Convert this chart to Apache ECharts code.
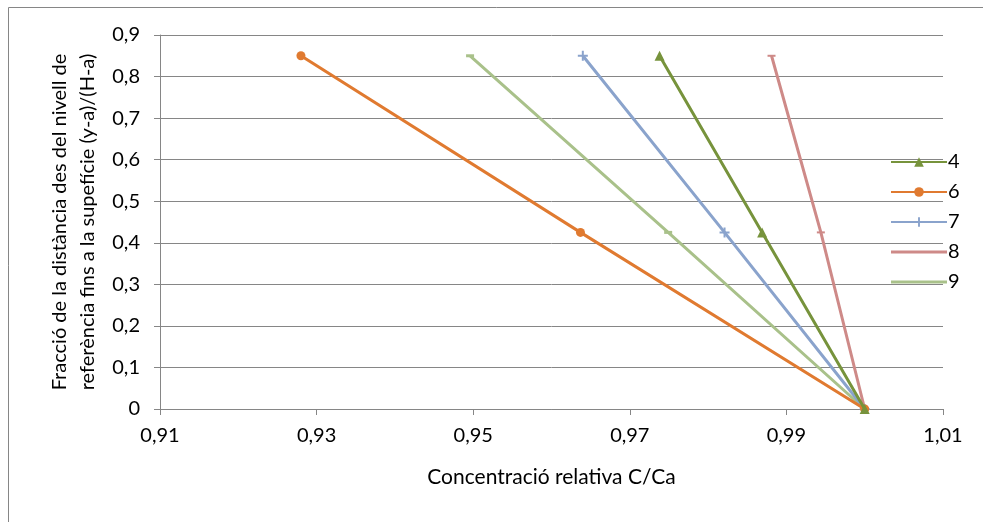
<!DOCTYPE html>
<html>
<head>
<meta charset="utf-8">
<script src="https://cdn.jsdelivr.net/npm/echarts@6/dist/echarts.min.js"></script>
<style>html,body{margin:0;padding:0;background:#fff;}#c{width:983px;height:522px;}</style>
</head>
<body>
<div id="c"></div>
<script>
var seriesNames = ['4', '6', '7', '8', '9'];
var yLevels = [0.85, 0.425, 0];
var x4 = [0.9738, 0.9869, 1.0];
var x6 = [0.928, 0.9637, 1.0];
var x7 = [0.964, 0.9821, 1.0];
var x8 = [0.9881, 0.9944, 1.0];
var x9 = [0.9496, 0.9749, 1.0];
var xTickMin = 0.91, xTickMax = 1.01, xTickStep = 0.02;
var yTickMin = 0, yTickMax = 0.9, yTickStep = 0.1;

var colors = ['#77933C', '#E07A30', '#8AA3CC', '#CE8A88', '#A9C18A'];
var symbols = ['triangle', 'circle', 'path://M4,0h2v4h4v2h-4v4h-2v-4h-4v-2h4z', 'rect', 'rect'];
var symbolSizes = [10, 9, 10, [8, 2], [8, 3]];
var xs = [x4, x6, x7, x8, x9];

function fmt(v, d) {
  var s = (Math.round(v * 1000) / 1000).toFixed(d);
  if (Math.abs(v) < 1e-9) return '0';
  return s.replace('.', ',');
}

var FONT = 'Lato';
var chart = echarts.init(document.getElementById('c'), null, {renderer: 'canvas'});
var series = seriesNames.map(function (n, i) {
  return {
    name: n,
    type: 'line',
    data: xs[i].map(function (x, j) { return [x, yLevels[j]]; }),
    symbol: symbols[i],
    symbolSize: symbolSizes[i],
    showAllSymbol: true,
    lineStyle: {color: colors[i], width: 3},
    itemStyle: {color: colors[i]},
    z: 10 - i
  };
});

var legendData = seriesNames.map(function (n, i) {
  if (i >= 3) return {name: n, icon: 'path://M0,0H55V3H0Z'};
  return {name: n};
});

chart.setOption({
  animation: false,
  backgroundColor: '#fff',
  textStyle: {fontFamily: FONT},
  graphic: [{
    type: 'rect',
    shape: {x: 8.5, y: 7.5, width: 1000, height: 600},
    style: {fill: 'none', stroke: '#868686', lineWidth: 1},
    silent: true
  }],
  grid: {left: 160, right: 40, top: 35, bottom: 113, containLabel: false},
  legend: {
    orient: 'vertical',
    left: 885,
    top: 147,
    itemWidth: 56,
    itemHeight: 12,
    itemGap: 10,
    textStyle: {fontFamily: FONT, fontSize: 20, lineHeight: 20, color: '#000', padding: [0, 0, 0, -4]},
    data: legendData
  },
  xAxis: {
    type: 'value',
    min: xTickMin,
    max: xTickMax,
    interval: xTickStep,
    name: 'Concentració relativa C/Ca',
    nameLocation: 'middle',
    nameGap: 58,
    nameTextStyle: {fontFamily: FONT, fontSize: 21, color: '#000'},
    axisLine: {show: true, lineStyle: {color: '#868686', width: 1}},
    axisTick: {show: true, length: 6, lineStyle: {color: '#868686'}},
    axisLabel: {fontFamily: FONT, fontSize: 20, color: '#000', margin: 17, formatter: function (v) { return fmt(v, 2); }},
    splitLine: {show: false}
  },
  yAxis: {
    type: 'value',
    min: yTickMin,
    max: yTickMax,
    interval: yTickStep,
    name: 'Fracció de la distància des del nivell de\nreferència fins a la supefície (y-a)/(H-a)',
    nameLocation: 'middle',
    nameGap: 58,
    nameTextStyle: {fontFamily: FONT, fontSize: 20, color: '#000', lineHeight: 28},
    axisLine: {show: true, lineStyle: {color: '#868686', width: 1}},
    axisTick: {show: true, length: 6, lineStyle: {color: '#868686'}},
    axisLabel: {fontFamily: FONT, fontSize: 20, color: '#000', margin: 20, formatter: function (v) { return fmt(v, 1); }},
    splitLine: {show: true, lineStyle: {color: '#868686', width: 1}}
  },
  series: series
});
</script>
</body>
</html>
